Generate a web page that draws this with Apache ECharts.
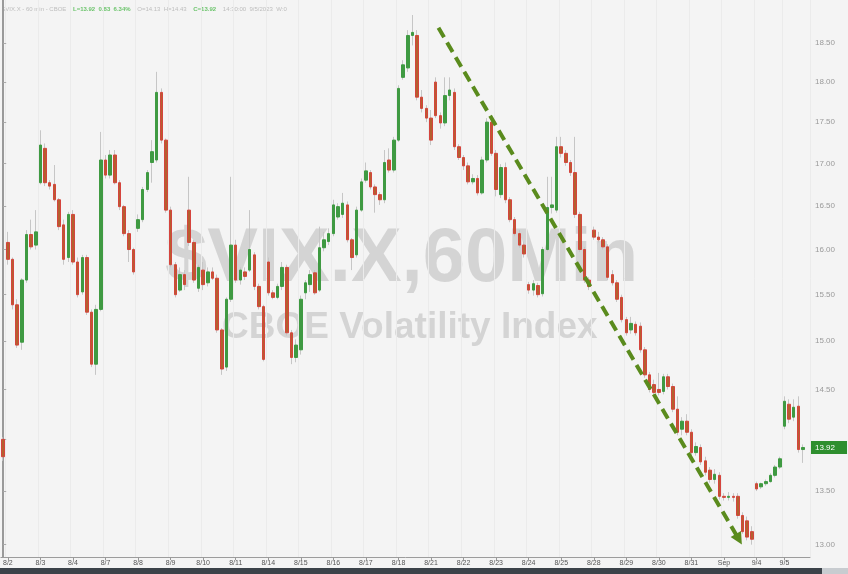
<!DOCTYPE html>
<html><head><meta charset="utf-8">
<script src="https://cdn.jsdelivr.net/npm/echarts@6/dist/echarts.min.js"></script>
<style>html,body{margin:0;padding:0;background:#f4f4f4}#c{width:848px;height:574px}</style>
</head><body><div id="c"></div>
<script>
// Day labels and number of 60-min bars per session
const dayLabels = ['8/1','8/2','8/3','8/4','8/7','8/8','8/9','8/10','8/11','8/14','8/15','8/16','8/17','8/18','8/21','8/22','8/23','8/24','8/25','8/28','8/29','8/30','8/31','Sep','9/4','9/5'];
const barsPerDay = [1,7,7,7,7,7,7,7,7,7,7,7,7,7,7,7,7,7,7,7,7,7,7,7,6,5];
const emptySlots = 1;

const openV = [
 14.00,
 16.08,15.89,15.39,14.99,15.66,16.17,16.05,
 16.77,17.18,16.77,16.75,16.57,16.28,15.91,
 16.40,15.86,15.53,15.91,15.31,14.76,15.34,
 17.04,16.86,17.10,16.77,16.49,16.18,16.00,
 16.24,16.34,16.69,17.01,17.04,17.87,17.28,
 16.45,15.83,15.55,15.72,16.45,16.08,15.57,
 15.77,15.63,15.75,15.68,15.12,14.73,15.45,
 16.05,15.66,15.75,15.77,15.94,15.59,15.37,
 15.86,15.52,15.47,15.59,15.80,15.09,14.83,
 14.91,15.52,15.61,15.74,15.55,16.02,16.09,
 16.18,16.37,16.40,16.51,16.11,15.94,16.45,
 16.80,16.89,16.72,16.63,16.57,17.04,16.92,
 17.28,18.06,18.18,18.60,18.60,17.81,17.67,
 17.55,18.00,17.58,17.49,17.83,17.87,17.20,
 17.07,16.97,16.78,16.82,16.65,17.04,17.50,
 17.12,16.63,16.95,16.57,16.34,16.18,16.05,
 15.61,15.55,15.60,15.51,16.00,16.48,16.45,
 17.20,17.12,17.01,16.89,16.40,16.00,15.66,
 16.22,16.14,16.11,16.03,15.72,15.63,15.47,
 15.23,15.12,15.18,15.16,14.91,14.65,14.55,
 14.50,14.48,14.63,14.53,14.30,14.10,14.18,
 14.07,13.87,13.92,13.79,13.70,13.61,13.65,
 13.45,13.44,13.45,13.45,13.27,13.22,13.12,
 13.57,13.54,13.57,13.59,13.65,13.73,
 14.13,14.35,14.22,14.33,13.90
];
const closeV = [
 13.83,
 15.89,15.39,14.96,15.66,16.17,16.03,16.20,
 17.22,16.77,16.73,16.57,16.26,15.89,16.40,
 15.86,15.50,15.91,15.31,14.76,15.34,17.04,
 16.86,17.10,16.77,16.49,16.18,16.00,15.75,
 16.34,16.69,16.89,17.14,17.87,17.28,16.45,
 15.83,15.50,15.72,15.61,16.08,15.66,15.80,
 15.61,15.75,15.68,15.12,14.71,15.45,16.05,
 15.66,15.77,15.70,16.00,15.59,15.37,14.81,
 15.52,15.47,15.59,15.80,15.09,14.83,14.96,
 15.45,15.63,15.72,15.52,16.02,16.11,16.18,
 16.51,16.49,16.53,16.11,15.91,16.45,16.78,
 16.91,16.72,16.63,16.57,17.01,16.92,17.28,
 17.92,18.22,18.60,18.64,17.81,17.67,17.55,
 17.28,17.58,17.49,17.83,17.90,17.20,17.07,
 16.97,16.78,16.82,16.65,17.04,17.50,17.12,
 16.69,16.95,16.57,16.34,16.18,16.05,15.95,
 15.55,15.62,15.50,16.00,16.48,16.51,17.20,
 17.12,17.01,16.89,16.40,16.00,15.66,15.59,
 16.14,16.11,16.03,15.69,15.63,15.45,15.23,
 15.09,15.19,15.09,14.91,14.65,14.50,14.47,
 14.47,14.63,14.53,14.30,14.07,14.18,14.07,
 13.87,13.93,13.78,13.68,13.61,13.66,13.45,
 13.44,13.45,13.44,13.27,13.12,13.07,13.05,
 13.52,13.57,13.59,13.65,13.73,13.81,
 14.38,14.20,14.32,13.90,13.92
];
const highV = [
 14.02,
 16.20,15.91,15.45,15.68,16.22,16.34,16.45,
 17.40,17.24,16.80,16.98,16.59,16.34,16.43,
 16.45,15.91,15.94,15.94,15.34,15.39,17.38,
 17.10,17.16,17.16,16.80,16.51,16.22,16.02,
 16.40,16.72,16.92,17.28,18.13,17.92,17.30,
 16.49,15.86,15.80,15.77,16.84,16.11,15.83,
 15.86,15.80,15.80,15.72,15.14,15.47,16.84,
 16.11,15.80,15.80,16.45,15.97,15.62,15.39,
 15.91,15.55,15.62,15.86,15.83,15.12,15.02,
 15.49,15.66,15.77,15.77,16.26,16.20,16.24,
 16.57,16.53,16.65,16.55,16.13,16.49,16.82,
 17.01,16.92,16.75,16.66,17.16,17.18,17.32,
 17.96,18.28,18.67,18.87,18.67,17.90,17.71,
 17.65,18.06,17.62,18.06,18.06,17.92,17.23,
 17.10,17.01,16.87,16.86,17.08,17.55,17.54,
 17.16,16.99,17.01,16.60,16.37,16.22,16.09,
 15.64,15.66,15.63,16.03,16.84,16.84,17.32,
 17.32,17.16,17.04,17.32,16.43,16.03,15.69,
 16.26,16.20,16.14,16.06,15.77,15.66,15.50,
 15.26,15.26,15.21,15.20,14.94,14.68,14.60,
 14.67,14.66,14.66,14.56,14.43,14.22,14.25,
 14.10,13.97,13.95,13.83,13.73,13.71,13.68,
 13.48,13.49,13.48,13.48,13.30,13.26,13.17,
 13.59,13.58,13.61,13.67,13.75,13.83,
 14.43,14.40,14.40,14.43,13.95
];
const lowV = [
 13.79,
 15.83,15.34,14.93,14.91,15.63,16.00,16.00,
 16.75,16.73,16.69,16.55,16.22,15.83,15.86,
 15.83,15.47,15.50,15.28,14.73,14.65,15.32,
 16.82,16.82,16.75,16.45,16.15,15.86,15.72,
 16.20,16.31,16.66,16.77,17.01,17.24,16.42,
 15.80,15.47,15.53,15.55,16.04,15.63,15.53,
 15.55,15.59,15.66,15.09,14.65,14.69,15.42,
 15.63,15.61,15.66,15.75,15.55,15.34,14.79,
 15.49,15.45,15.45,15.55,15.06,14.76,14.78,
 14.86,15.45,15.53,15.50,15.53,15.98,16.05,
 16.15,16.34,16.36,16.08,15.77,15.91,16.43,
 16.77,16.69,16.42,16.51,16.53,16.89,16.89,
 17.26,18.03,18.13,18.47,17.77,17.62,17.50,
 17.22,17.55,17.42,17.45,17.77,17.16,17.04,
 16.92,16.75,16.75,16.62,16.63,17.01,17.09,
 16.61,16.59,16.53,16.31,16.15,16.02,15.91,
 15.51,15.49,15.47,15.48,15.98,16.41,16.42,
 17.07,16.97,16.85,16.36,15.97,15.63,15.55,
 16.11,16.08,16.00,15.66,15.60,15.42,15.20,
 15.06,15.08,15.06,14.88,14.62,14.47,14.44,
 14.44,14.45,14.50,14.27,14.04,14.04,14.04,
 13.84,13.84,13.75,13.65,13.58,13.57,13.42,
 13.41,13.41,13.40,13.24,13.10,13.04,13.00,
 13.50,13.52,13.55,13.58,13.63,13.71,
 14.10,14.16,14.18,13.87,13.77
];
const yTicks = [13.00,13.50,14.00,14.50,15.00,15.50,16.00,16.50,17.00,17.50,18.00,18.50];
// trend line annotation in data coordinates: [bar index, value]
const trendLine = [[93.6,18.70],[158.2,13.05]];

// build category axis
const categories = [];
const dayStart = new Set();
dayLabels.forEach((d, di) => {
  for (let k = 0; k < barsPerDay[di]; k++) {
    if (k === 0 && di > 0) dayStart.add(categories.length);
    categories.push(d + '|' + k);
  }
});
for (let e = 0; e < emptySlots; e++) categories.push('|e' + e);
const nCat = categories.length;

const wickData = openV.map((o, i) => [lowV[i], highV[i], lowV[i], highV[i]]);
const bodyData = openV.map((o, i) => [o, closeV[i], Math.min(o, closeV[i]), Math.max(o, closeV[i])]);
const lastClose = closeV[closeV.length - 1];

const chart = echarts.init(document.getElementById('c'), null, {renderer: 'canvas'});
const FONT = '"Liberation Sans", Arial, sans-serif';
const showDay = (idx) => dayStart.has(idx);

chart.setOption({
  backgroundColor: '#f4f4f4',
  animation: false,
  grid: {left: 0, right: 38, top: 0, bottom: 17, containLabel: false},
  axisPointer: {show: false},
  xAxis: [{
    type: 'category', data: categories, boundaryGap: true,
    axisLine: {lineStyle: {color: '#9c9c9c', width: 1}},
    axisTick: {show: true, interval: (i) => showDay(i), alignWithLabel: true, length: 3, lineStyle: {color: '#999'}},
    axisLabel: {interval: (i) => showDay(i), formatter: (v) => v.split('|')[0], fontSize: 7, color: '#555', margin: 3, fontFamily: FONT},
    splitLine: {show: true, interval: (i) => showDay(i), lineStyle: {color: '#ebebeb', width: 1}}
  }, {
    type: 'value', min: -0.5, max: nCat - 0.5, show: false
  }],
  yAxis: {
    type: 'log', logBase: 10, position: 'right', min: 12.888, max: 19.07, scale: true,
    axisLine: {show: true, lineStyle: {color: '#9a9a9a', width: 2}},
    axisTick: {show: true, length: 3, customValues: yTicks, lineStyle: {color: '#aaa'}},
    axisLabel: {customValues: yTicks,
      // labels hidden under the last-price tag, as in the original
      formatter: (v) => Math.abs(Number(v) - lastClose) < 0.12 ? '' : Number(v).toFixed(2),
      fontSize: 8, color: '#9a9a9a', margin: 5, fontFamily: FONT},
    splitLine: {show: false},
    axisPointer: {
      show: true, value: lastClose, status: 'show', triggerTooltip: false, triggerOn: 'none',
      type: 'line', lineStyle: {opacity: 0},
      label: {show: true, formatter: (p) => Number(p.value).toFixed(2), backgroundColor: '#2e8f2e', color: '#ffffff',
        fontSize: 8, padding: [3, 12, 2, 4], margin: 1, fontFamily: FONT, borderRadius: 0, shadowBlur: 0}
    }
  },
  graphic: [
    {type: 'text', left: 165, top: 222, z: -10, silent: true,
     style: {text: '$VIX.X,60Min', font: 'bold 76px ' + FONT, fill: 'rgba(150,150,150,0.33)'}},
    {type: 'text', left: 222, top: 309, z: -10, silent: true,
     style: {text: 'CBOE Volatility Index', font: 'bold 37px ' + FONT, fill: 'rgba(150,150,150,0.33)'}},
    {type: 'text', left: 2, top: 3, silent: true,
     style: {text: '{g|$VIX.X - 60 min - CBOE}  {n|L=13.92  0.83  6.34%}  {g|O=14.13  H=14.43}  {n|C=13.92}  {g|14:30:00  9/5/2023  W:0}',
       rich: {g: {fontSize: 6, fill: '#bdbdbd', fontFamily: FONT}, n: {fontSize: 6, fill: '#6cc46c', fontFamily: FONT, fontWeight: 'bold'}}}},
    {type: 'rect', shape: {x: 0, y: 568, width: 822, height: 6}, style: {fill: '#3b4249'}, silent: true},
    {type: 'rect', shape: {x: 822, y: 568, width: 26, height: 6}, style: {fill: '#c8ccd0'}, silent: true}
  ],
  series: [
    {
      name: 'wick', type: 'candlestick', data: wickData, barWidth: 1, z: 2,
      itemStyle: {color: '#c6c6c6', color0: '#c6c6c6', borderColor: '#c6c6c6', borderColor0: '#c6c6c6', borderWidth: 1},
      silent: true
    },
    {
      name: '$VIX.X', type: 'candlestick', data: bodyData, barWidth: 3, z: 3, clip: false,
      itemStyle: {color: '#3f9a42', color0: '#b4602f', borderColor: '#3f9a42', borderColor0: '#d5443d', borderWidth: 1}
    },
    {
      name: 'trend', type: 'line', xAxisIndex: 1, data: trendLine, symbol: 'none', z: 5,
      lineStyle: {opacity: 0}, silent: true,
      markLine: {
        silent: true, animation: false, symbol: ['none', 'triangle'], symbolSize: 12,
        label: {show: false},
        lineStyle: {type: [11, 6], width: 4, color: '#5a8b1d'},
        data: [[{coord: trendLine[0]}, {coord: trendLine[1]}]]
      }
    }
  ]
});
</script>
</body></html>
